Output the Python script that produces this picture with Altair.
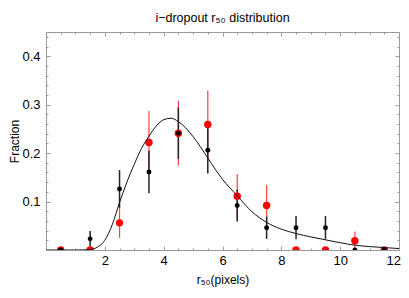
import altair as alt
import pandas as pd

# bin centres (pixels)
bins = [0.5, 1.5, 2.5, 3.5, 4.5, 5.5, 6.5, 7.5, 8.5, 9.5, 10.5, 11.5]
black_y = [0, 0.023, 0.126, 0.161, 0.241, 0.206, 0.092, 0.046, 0.046, 0.046, 0, 0]
black_err = [0, 0.016, 0.039, 0.044, 0.053, 0.048, 0.033, 0.023, 0.024, 0.024, 0, 0]
red_y = [0, 0, 0.056, 0.222, 0.241, 0.259, 0.111, 0.092, 0, 0, 0.019, 0]
red_err = [0, 0, 0.031, 0.065, 0.067, 0.070, 0.046, 0.042, 0, 0, 0.019, 0]

# fitted curve
curve_x = [0, 1.0, 1.5, 1.75, 2.0, 2.25, 2.5, 2.75, 3.0, 3.25, 3.5, 3.75, 4.0, 4.25,
           4.5, 4.75, 5.0, 5.25, 5.5, 5.75, 6.0, 6.5, 7.0, 7.5, 8.0, 8.5, 9.0, 9.5,
           10.0, 10.5, 11.0, 11.5, 12.0]
curve_y = [0, 0, 0.001, 0.006, 0.02, 0.052, 0.098, 0.14, 0.177, 0.21, 0.235, 0.256,
           0.269, 0.272, 0.265, 0.252, 0.234, 0.213, 0.19, 0.167, 0.146, 0.112, 0.079,
           0.057, 0.043, 0.034, 0.027, 0.021, 0.015, 0.010, 0.007, 0.005, 0.003]

x_labels = [2, 4, 6, 8, 10, 12]
x_minor = [i * 0.5 for i in range(1, 24)]
y_labels = [0.1, 0.2, 0.3, 0.4]
y_minor = [round(i * 0.02, 2) for i in range(1, 23)]

black = pd.DataFrame({"x": bins, "y": black_y,
                      "lo": [a - b for a, b in zip(black_y, black_err)],
                      "hi": [a + b for a, b in zip(black_y, black_err)]})
red = pd.DataFrame({"x": bins, "y": red_y,
                    "lo": [a - b for a, b in zip(red_y, red_err)],
                    "hi": [a + b for a, b in zip(red_y, red_err)]})
curve = pd.DataFrame({"x": curve_x, "y": curve_y})

FONT = "Liberation Sans"
FRAME = "#999999"
xs = alt.Scale(domain=[0, 12], nice=False, zero=False)
ys = alt.Scale(domain=[0, 0.45], nice=False, zero=False)


def tick_axis(orient, values, size):
    return alt.Axis(orient=orient, values=values, labels=False, domain=False,
                    grid=False, tickSize=size, offset=-size, tickColor=FRAME,
                    tickWidth=1, title=None)


x_main = alt.Axis(orient="bottom", values=x_labels, ticks=False, domain=False,
                  grid=False, labelFont=FONT, labelFontSize=13, labelColor="black",
                  labelPadding=4, labelFlush=True, labelFlushOffset=1.5, format="d",
                  title="r₅₀(pixels)", titleFont=FONT, titleFontSize=12,
                  titleFontWeight="normal", titleColor="black",
                  titleBaseline="alphabetic", titleY=33)
y_main = alt.Axis(orient="left", values=y_labels, ticks=False, domain=False,
                  grid=False, labelFont=FONT, labelFontSize=13, labelColor="black",
                  labelPadding=6, format=".1f",
                  title="Fraction", titleFont=FONT, titleFontSize=12,
                  titleFontWeight="normal", titleColor="black",
                  titleBaseline="alphabetic", titleX=-28, titleY=109)

red_bars = alt.Chart(red).mark_rule(color="#ff4040", strokeWidth=1.2, clip=True).encode(
    x=alt.X("x:Q", scale=xs, axis=x_main),
    y=alt.Y("lo:Q", scale=ys, axis=y_main),
    y2="hi:Q")
black_bars = alt.Chart(black).mark_rule(color="#222222", strokeWidth=1.5, clip=True).encode(
    x=alt.X("x:Q", scale=xs, axis=tick_axis("bottom", x_labels, 4)),
    y=alt.Y("lo:Q", scale=ys, axis=tick_axis("left", y_labels, 4)),
    y2="hi:Q")
red_pts = alt.Chart(red).mark_circle(color="#ff0000", size=55, opacity=1, clip=True).encode(
    x=alt.X("x:Q", scale=xs, axis=tick_axis("bottom", x_minor, 2)),
    y=alt.Y("y:Q", scale=ys, axis=tick_axis("left", y_minor, 2)))
black_pts = alt.Chart(black).mark_circle(color="#000000", size=24, opacity=1, clip=True).encode(
    x=alt.X("x:Q", scale=xs, axis=tick_axis("top", x_labels, 4)),
    y=alt.Y("y:Q", scale=ys, axis=tick_axis("right", y_labels, 4)))
fit = alt.Chart(curve).mark_line(color="#111111", strokeWidth=1, interpolate="monotone",
                                 clip=True).encode(
    x=alt.X("x:Q", scale=xs, axis=tick_axis("top", x_minor, 2)),
    y=alt.Y("y:Q", scale=ys, axis=tick_axis("right", y_minor, 2)))

chart = alt.layer(red_bars, black_bars, red_pts, black_pts, fit).resolve_axis(
    x="independent", y="independent"
).properties(
    width=353, height=218,
    autosize=alt.AutoSizeParams(type="none"),
    padding={"left": 38, "top": 24, "right": 2, "bottom": 40},
    title=alt.TitleParams(text="i−dropout r₅₀ distribution", font=FONT, fontSize=12.5,
                          fontWeight="normal", color="black", offset=7),
).configure_view(stroke=FRAME, strokeWidth=1)

chart.save("out.html", embed_options={"renderer": "svg", "actions": False})
